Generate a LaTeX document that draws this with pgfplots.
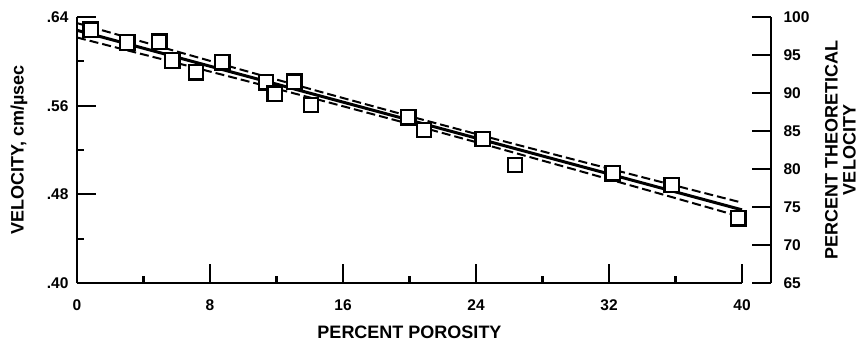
\documentclass[border=0pt]{standalone}
\usepackage{fontspec}
\setmainfont{Liberation Sans}
\usepackage{pgfplots}
\pgfplotsset{compat=1.18}
\begin{document}
\begin{tikzpicture}
\useasboundingbox (0,0) rectangle (861pt,341pt);
\begin{axis}[
  at={(77pt,58pt)}, anchor=south west,
  scale only axis, width=665pt, height=266pt,
  xmin=0, xmax=40, ymin=0.40, ymax=0.64,
  clip=false,
  axis x line=bottom, axis y line=left,
  axis line style={-, line width=2.6pt, black},
  xtick={0,8,16,24,32,40},
  minor xtick={4,12,20,28,36},
  ytick={0.40,0.48,0.56,0.64},
  yticklabels={.40,.48,.56,.64},
  minor ytick={0.44,0.52,0.60},
  tick align=inside,
  major tick length=19pt, minor tick length=7pt,
  every tick/.style={line width=2.2pt, black},
  /pgf/number format/assume math mode=true,
  tick label style={font=\fontsize{15.5}{16}\selectfont\bfseries},
  xticklabel style={yshift=-13pt},
  yticklabel style={xshift=-5pt},
  xlabel={PERCENT POROSITY},
  ylabel={VELOCITY, cm/µsec},
  every axis x label/.style={at={(axis description cs:0.5,-0.184)}, anchor=center,
     font=\fontsize{18}{18}\selectfont\bfseries},
  every axis y label/.style={at={(axis description cs:-0.0872,0.5)}, rotate=90, anchor=center,
     font=\fontsize{18}{18}\selectfont\bfseries},
]
% regression line and confidence bands
\addplot[black, line width=3pt] coordinates {(0,0.628) (40,0.466)};
\addplot[black, line width=2pt, dash pattern=on 9pt off 4pt] coordinates {
 (0,0.6345) (5,0.61315) (10,0.59194) (15,0.57101) (20,0.5505) (25,0.53051) (30,0.51094) (35,0.49165) (40,0.4725)};
\addplot[black, line width=2pt, dash pattern=on 9pt off 4pt] coordinates {
 (0,0.6215) (5,0.60235) (10,0.58306) (15,0.56349) (20,0.5435) (25,0.52299) (30,0.50206) (35,0.48085) (40,0.4595)};
% data
\addplot[only marks, mark=square*, mark size=7.2pt,
  mark options={fill=white, draw=black, line width=2.3pt}] coordinates {
 (0.82,0.6285) (3.03,0.617) (4.95,0.6177) (5.73,0.6008) (7.16,0.590)
 (8.74,0.5991) (11.37,0.581) (11.89,0.5708) (13.07,0.5816) (14.08,0.5606)
 (19.93,0.5494) (20.87,0.538) (24.40,0.530) (26.35,0.5065) (32.22,0.4990)
 (35.77,0.4884) (39.78,0.4584)};
\end{axis}
\begin{axis}[
  at={(77pt,58pt)}, anchor=south west,
  scale only axis, width=694pt, height=266pt,
  xmin=0, xmax=1, ymin=65, ymax=100,
  axis x line=none, axis y line=right,
  axis line style={-, line width=2.6pt, black},
  ytick={65,70,...,100},
  tick align=inside,
  major tick length=19pt,
  every tick/.style={line width=2.2pt, black},
  /pgf/number format/assume math mode=true,
  tick label style={font=\fontsize{15.5}{16}\selectfont\bfseries},
  yticklabel style={xshift=9pt},
  ylabel={PERCENT THEORETICAL\\VELOCITY},
  every axis y label/.style={at={(axis description cs:1.100,0.5)}, rotate=90, anchor=center,
     align=center, font=\fontsize{18}{18}\selectfont\bfseries},
]
\end{axis}
\end{tikzpicture}
\end{document}
